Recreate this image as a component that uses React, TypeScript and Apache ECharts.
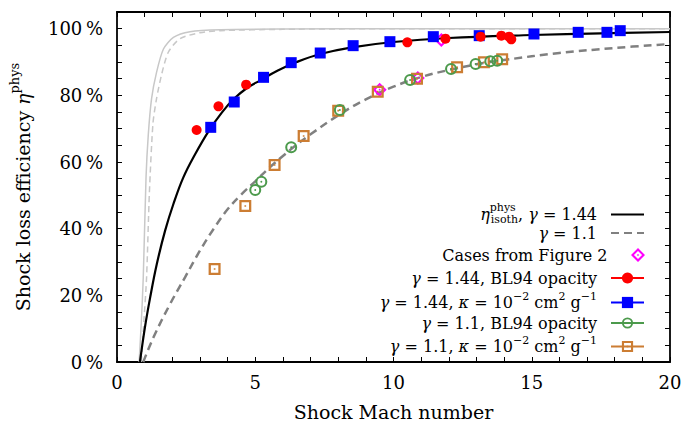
import React, { useEffect, useRef } from "react";
import * as echarts from "echarts";

// ---- Data (x = Mach number, y = efficiency in %) ----
const isothSteepSolid: [number, number][] = [
  [0.8, 0], [0.88, 12], [0.95, 25.4], [1.05, 55.4], [1.13, 68], [1.25, 79], [1.43, 86.9],
  [1.68, 93.9], [2.04, 97.4], [2.64, 99.1], [3.73, 99.7], [6, 99.9], [10, 100], [20, 100],
];
const isothSteepDashed: [number, number][] = [
  [0.88, 0], [0.97, 12], [1.07, 25.4], [1.17, 50.5], [1.3, 71.5], [1.43, 79], [1.62, 86.5],
  [1.86, 93], [2.28, 97], [3.0, 98.8], [3.73, 99.4], [6, 99.8], [10, 100], [20, 100],
];
const etaIso144: [number, number][] = [
  [0.83, 0], [1.01, 10.4], [1.2, 19.4], [1.44, 29.4], [1.74, 39.4], [2.04, 47.4], [2.4, 55.4],
  [2.83, 62.4], [3.31, 69.2], [3.79, 74.8], [4.21, 78.8], [4.7, 82.2], [5.18, 84.5], [5.8, 87.4],
  [6.5, 90.0], [7.35, 92.4], [8.5, 94.4], [10, 96.0], [12, 97.2], [15, 98.1], [17.5, 98.6], [20, 99.0],
];
const etaIso11: [number, number][] = [
  [0.95, 0], [1.32, 7.4], [1.92, 17.4], [2.46, 25.4], [3.0, 33.4], [3.5, 40], [4.0, 45.8],
  [4.5, 50.3], [5.0, 54.2], [5.5, 58.2], [6.0, 61.8], [6.5, 65.2], [7, 68.3], [8, 74], [9, 78.8],
  [10, 82.6], [11, 85.5], [12, 87.6], [13, 89.3], [14, 90.6], [16, 92.7], [18, 94.2], [20, 95.4],
];
const casesFig2: [number, number][] = [[9.5, 81.7], [10.88, 85.2], [11.73, 96.6]];
const g144BL94: [number, number][] = [
  [2.88, 69.6], [3.67, 76.7], [4.67, 83.2], [10.5, 95.9], [11.88, 97.0], [13.15, 97.6],
  [13.9, 97.9], [14.18, 97.6], [14.26, 96.8],
];
const g144Kappa: [number, number][] = [
  [3.39, 70.4], [4.24, 78.0], [5.3, 85.4], [6.3, 89.8], [7.35, 92.7], [8.54, 94.9], [9.87, 96.1],
  [11.44, 97.6], [13.1, 97.9], [15.08, 98.4], [16.68, 98.9], [17.72, 98.9], [18.2, 99.4],
];
const g11BL94: [number, number][] = [
  [5.0, 51.6], [5.22, 54.1], [6.3, 64.4], [8.06, 75.6], [10.6, 84.6], [12.08, 87.9],
  [12.97, 89.4], [13.5, 90.2], [13.75, 90.4],
];
const g11Kappa: [number, number][] = [
  [3.53, 27.9], [4.64, 46.8], [5.7, 59.1], [6.75, 67.8], [8.0, 75.4], [9.43, 81.1], [10.85, 85.0],
  [12.3, 88.4], [13.27, 89.9], [13.93, 90.8],
];

const xMajorLabels = [0, 5, 10, 15, 20];
const yMajorLabels = [0, 20, 40, 60, 80, 100];

const legendRows = [
  { name: "etaIso144", text: "{i|η}{supz|phys}{sub|isoth}{t|, }{i|γ}{t| = 1.44}" },
  { name: "etaIso11", text: "{i|γ}{t| = 1.1}" },
  { name: "casesFig2", text: "{t|Cases from Figure 2}" },
  { name: "g144BL94", text: "{i|γ}{t| = 1.44, BL94 opacity}" },
  { name: "g144Kappa", text: "{i|γ}{t| = 1.44, }{i|κ}{t| = 10}{sup|−2}{t| cm}{sup|2}{t| g}{sup|−1}" },
  { name: "g11BL94", text: "{i|γ}{t| = 1.1, BL94 opacity}" },
  { name: "g11Kappa", text: "{i|γ}{t| = 1.1, }{i|κ}{t| = 10}{sup|−2}{t| cm}{sup|2}{t| g}{sup|−1}" },
];
const legendCenters = [212, 233, 255, 278, 301, 323, 345];

const FONT = "DejaVu Serif";
const RED = "#ff0000";
const BLUE = "#0000ff";
const GREEN = "#4c9a4c";
const ORANGE = "#cc7d33";
const MAGENTA = "#ff00ff";

const ringCircle =
  "path://M50 0 A50 50 0 1 1 50 100 A50 50 0 1 1 50 0 Z M50 17 A33 33 0 1 0 50 83 A33 33 0 1 0 50 17 Z M50 42 A8 8 0 1 1 50 58 A8 8 0 1 1 50 42 Z";
const ringSquare =
  "path://M0 0 L100 0 L100 100 L0 100 Z M19 19 L19 81 L81 81 L81 19 Z M43 43 L57 43 L57 57 L43 57 Z";
const ringDiamond =
  "path://M50 0 L100 50 L50 100 L0 50 Z M50 21 L21 50 L50 79 L79 50 Z M50 42 L58 50 L50 58 L42 50 Z";

const rich = {
  t: { fontFamily: FONT, fontSize: 16, color: "#000", align: "left" },
  i: { fontStyle: "italic", fontFamily: FONT, fontSize: 16, color: "#000", align: "left" },
  sup: { fontFamily: FONT, fontSize: 11, color: "#000", padding: [0, 0, 12, 0], align: "left" },
  supz: { fontFamily: FONT, fontSize: 11, color: "#000", padding: [0, 0, 14, 0], width: 1, align: "left" },
  sub: { fontFamily: FONT, fontSize: 11, color: "#000", padding: [10, 0, 0, 0], align: "left" },
};

function legendItem(name: string) {
  const base: any = { name };
  if (name === "etaIso144" || name === "etaIso11") {
    base.itemStyle = { opacity: 0 };
  }
  if (["g144BL94", "g144Kappa", "g11BL94", "g11Kappa"].includes(name)) {
    base.lineStyle = { opacity: 1, width: 2 };
  }
  return base;
}

export default function App() {
  const ref = useRef<HTMLDivElement>(null);
  useEffect(() => {
    const chart = echarts.init(ref.current!, null, { renderer: "svg" });
    const axisLine = { show: true, onZero: false, lineStyle: { color: "#000", width: 1.8 } };
    const axisTick = { show: true, inside: true, length: 5, lineStyle: { color: "#000", width: 1 } };
    const tickLabel = { color: "#000", fontFamily: FONT, fontSize: 18 };
    const option: any = {
      animation: false,
      backgroundColor: "#fff",
      grid: { left: 117, right: 15, top: 12, bottom: 66, containLabel: false, outerBoundsMode: "none" },
      xAxis: [
        {
          type: "value", min: 0, max: 20, interval: 1, position: "bottom",
          axisLine, axisTick, splitLine: { show: false },
          axisLabel: {
            ...tickLabel, margin: 11,
            formatter: (v: number) => (xMajorLabels.includes(v) ? String(v) : ""),
          },
          name: "Shock Mach number", nameLocation: "middle", nameGap: 40,
          nameTextStyle: { color: "#000", fontFamily: FONT, fontSize: 19 },
        },
        {
          type: "value", min: 0, max: 20, interval: 1, position: "top",
          axisLine, axisTick, splitLine: { show: false }, axisLabel: { show: false },
        },
      ],
      yAxis: [
        {
          type: "value", min: 0, max: 105, interval: 5, position: "left",
          axisLine, axisTick, splitLine: { show: false },
          axisLabel: {
            ...tickLabel, margin: 14,
            formatter: (v: number) => (yMajorLabels.includes(v) ? v + "\u2009%" : ""),
          },
          name: "Shock loss efficiency {i|η}{sup|phys}", nameLocation: "middle", nameGap: 80,
          nameTextStyle: {
            color: "#000", fontFamily: FONT, fontSize: 19,
            rich: {
              i: { fontStyle: "italic", fontFamily: FONT, fontSize: 19, color: "#000" },
              sup: { fontFamily: FONT, fontSize: 13, color: "#000", padding: [0, 0, 16, 0] },
            },
          },
        },
        {
          type: "value", min: 0, max: 105, interval: 5, position: "right",
          axisLine, axisTick, splitLine: { show: false }, axisLabel: { show: false },
        },
      ],
      legend: legendRows.map((r, k) => ({
        data: [legendItem(r.name)],
        right: 40,
        top: legendCenters[k] - 10,
        padding: 0,
        itemWidth: 33,
        itemHeight: 14,
        selectedMode: false,
        align: "right",
        formatter: () => r.text,
        textStyle: {
          color: "#000", fontFamily: FONT, fontSize: 16, lineHeight: 20,
          padding: [0, 9, 0, 0], rich,
        },
      })),
      series: [
        {
          name: "lightSolid", type: "line", data: isothSteepSolid, symbol: "none", smooth: 0.25,
          lineStyle: { color: "#c8c8c8", width: 1.5 }, z: 1,
        },
        {
          name: "lightDashed", type: "line", data: isothSteepDashed, symbol: "none", smooth: 0.25,
          lineStyle: { color: "#c8c8c8", width: 1.5, type: [6, 4] }, z: 1,
        },
        {
          name: "etaIso144", type: "line", data: etaIso144, symbol: "none", smooth: 0.4,
          lineStyle: { color: "#000", width: 2.2 }, itemStyle: { color: "#000" }, z: 2,
        },
        {
          name: "etaIso11", type: "line", data: etaIso11, symbol: "none", smooth: 0.4,
          lineStyle: { color: "#808080", width: 2.5, type: [8, 5] },
          itemStyle: { color: "#808080" }, z: 2,
        },
        {
          name: "casesFig2", type: "scatter", data: casesFig2, symbol: ringDiamond, symbolSize: 14,
          itemStyle: { color: MAGENTA, opacity: 1 }, z: 3,
        },
        {
          name: "g144Kappa", type: "line", data: g144Kappa, symbol: "rect", symbolSize: 11, showSymbol: true,
          lineStyle: { color: BLUE, opacity: 0, width: 2 }, itemStyle: { color: BLUE }, z: 4,
        },
        {
          name: "g144BL94", type: "line", data: g144BL94, symbol: "circle", symbolSize: 10, showSymbol: true,
          lineStyle: { color: RED, opacity: 0, width: 2 }, itemStyle: { color: RED }, z: 5,
        },
        {
          name: "g11Kappa", type: "line", data: g11Kappa, symbol: ringSquare, symbolSize: 12, showSymbol: true,
          lineStyle: { color: ORANGE, opacity: 0, width: 2 }, itemStyle: { color: ORANGE }, z: 4,
        },
        {
          name: "g11BL94", type: "line", data: g11BL94, symbol: ringCircle, symbolSize: 12, showSymbol: true,
          lineStyle: { color: GREEN, opacity: 0, width: 2 }, itemStyle: { color: GREEN }, z: 5,
        },
      ],
    };
    chart.setOption(option);
    return () => chart.dispose();
  }, []);
  return (
    <div
      ref={ref}
      style={{ position: "fixed", left: 0, top: 0, width: 685, height: 428, background: "#fff" }}
    />
  );
}
